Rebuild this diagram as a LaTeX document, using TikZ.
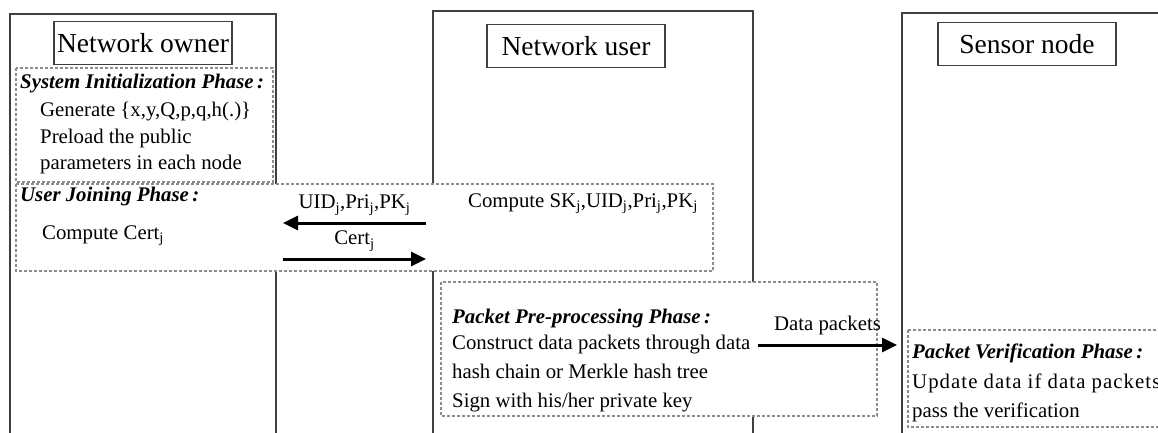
\documentclass[tikz,border=0pt]{standalone}
\usepackage{fontspec}
\setmainfont{Liberation Serif}
\usetikzlibrary{arrows.meta}

\begin{document}
\begin{tikzpicture}[x=1pt, y=-1pt,
  lane/.style={draw=black!75, line width=1.6pt},
  titlenode/.style={rectangle, draw=black!75, line width=1.6pt, minimum width=178pt, minimum height=43pt, font=\fontsize{27.5}{31}\selectfont},
  phasebox/.style={draw=black!45, dash pattern=on 3pt off 2pt, line width=1.2pt, fill=white},
  phasetitle/.style={anchor=base west, inner sep=0pt, font=\fontsize{20.8}{25}\selectfont\bfseries\itshape},
  textline/.style={anchor=base west, inner sep=0pt, font=\fontsize{20.8}{25}\selectfont},
  msg/.style={-{Triangle[length=15pt, width=14pt]}, line width=3pt},
  ]

\useasboundingbox (0,0) rectangle (1158,432);
\clip (0,0) rectangle (1158,432);

% the three parties
\draw[lane] (10,440) -- (10,14) -- (276,14) -- (276,440);
\draw[lane] (433,440) -- (433,11) -- (753,11) -- (753,440);
\draw[lane] (902,440) -- (902,13) -- (1170,13);

\node[titlenode] (owner) at (143,43) {Network owner};
\node[titlenode] (user) at (576,46) {Network user};
\node[titlenode] (sensor) at (1027,44) {Sensor node};

% phases
\draw[phasebox] (16,68) rectangle (273,182);
\draw[phasebox] (16,184) rectangle (713,271);
\draw[phasebox] (441,282) rectangle (877,416);
\draw[phasebox] (908,330) rectangle (1170,427);

\node[phasetitle] (init) at (20,88) {System Initialization Phase\,:};
\node[textline] (gen) at (40,116) {Generate \{x,y,Q,p,q,h(.)\}};
\node[textline] (preload1) at (40,143) {Preload the public};
\node[textline] (preload2) at (40,169) {parameters in each node};

\node[phasetitle] (join) at (20,201) {User Joining Phase\,:};
\node[textline] (cert) at (42,239) {Compute Cert\textsubscript{j}};
\node[textline] (keys) at (468,207) {Compute SK\textsubscript{j},UID\textsubscript{j},Pri\textsubscript{j},PK\textsubscript{j}};

\node[phasetitle] (pre) at (452,323) {Packet Pre-processing Phase\,:};
\node[textline] (pre1) at (452,349) {Construct data packets through data};
\node[textline] (pre2) at (452,378) {hash chain or Merkle hash tree};
\node[textline] (pre3) at (452,407) {Sign with his/her private key};

\node[phasetitle] (verify) at (912,358) {Packet Verification Phase\,:};
\node[textline] (ver1) at (912,388) {\addfontfeature{LetterSpace=5}Update data if data packets};
\node[textline] (ver2) at (912,417) {pass the verification};

% messages
\coordinate (reqfrom) at (426,223);
\coordinate (reqto) at (283,223);
\coordinate (certfrom) at (283,259);
\coordinate (certto) at (426,259);
\coordinate (datafrom) at (758,345);
\coordinate (datato) at (897,345);

\draw[msg] (reqfrom) -- (reqto) node[midway, above=3pt, font=\fontsize{20.8}{25}\selectfont] (reqlabel) {UID\textsubscript{j},Pri\textsubscript{j},PK\textsubscript{j}};
\draw[msg] (certfrom) -- (certto) node[midway, above=3pt, font=\fontsize{20.8}{25}\selectfont] (certlabel) {Cert\textsubscript{j}};
\draw[msg] (datafrom) -- (datato) node[midway, above=5pt, font=\fontsize{20.8}{25}\selectfont] (datalabel) {Data packets};

\end{tikzpicture}
\end{document}
